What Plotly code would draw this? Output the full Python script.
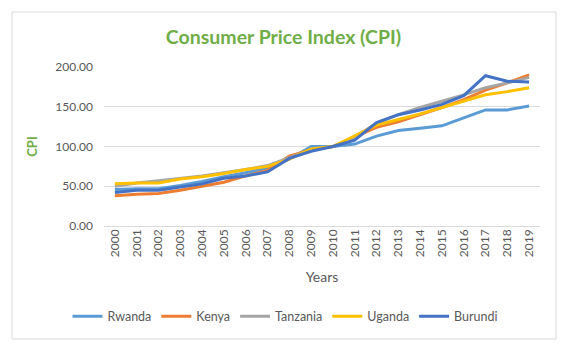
import plotly.graph_objects as go

# --- Data ---
years = [str(y) for y in range(2000, 2020)]

rwanda = [46, 47, 47, 51, 56, 62, 67, 73, 84, 100, 100, 103, 113, 120, 123, 126, 136, 146, 146, 151]
kenya = [38, 40, 41, 45, 50, 55, 63, 70, 88, 96, 100, 112, 124, 131, 140, 149, 159, 171, 180, 190]
tanzania = [50, 54, 57, 60, 63, 67, 71, 76, 86, 96, 100, 112, 129, 140, 149, 157, 165, 174, 180, 187]
uganda = [53, 54, 54, 59, 62, 66, 71, 75, 84, 97, 100, 114, 127, 134, 141, 149, 157, 165, 169, 174]
burundi = [42, 45, 45, 49, 53, 60, 63, 68, 85, 94, 100, 108, 130, 140, 146, 153, 164, 189, 182, 181]

series = [
    ("Rwanda", rwanda, "#5B9BD5"),
    ("Kenya", kenya, "#ED7D31"),
    ("Tanzania", tanzania, "#A5A5A5"),
    ("Uganda", uganda, "#FFC000"),
    ("Burundi", burundi, "#4472C4"),
]

# page body has an 8px margin, so the figure is 8px smaller and everything is laid out 8px up/left
W, H = 571, 346
L, R, T, B = 96, 39, 59, 128
GREEN = "#70AD47"
GREY = "#595959"

fig = go.Figure()
for name, vals, color in series:
    fig.add_trace(go.Scatter(
        x=years, y=vals, name=name, mode="lines",
        line=dict(color=color, width=3)
    ))

pw = W - L - R
ph = H - T - B

# chart border (Excel-style outer frame)
fig.add_shape(
    type="rect", xref="paper", yref="paper",
    x0=(4 - L) / pw, x1=(548 - L) / pw,
    y0=(H - B - 331) / ph, y1=(H - B - 4) / ph,
    line=dict(color="#D9D9D9", width=1), layer="below"
)

fig.update_layout(
    width=W, height=H,
    margin=dict(l=L, r=R, t=T, b=B),
    paper_bgcolor="white", plot_bgcolor="white",
    font=dict(family="Lato", color=GREY, size=12),
    title=dict(
        text="Consumer Price Index (CPI)",
        x=275.5 / W, xanchor="center", xref="container",
        y=1 - 29 / H, yanchor="middle", yref="container",
        font=dict(family="Lato", size=19.5, color=GREEN, weight="bold")
    ),
    legend=dict(
        orientation="h", x=(277.5 - L) / pw, xanchor="center",
        y=(H - B - 308.7) / ph, yanchor="middle",
        font=dict(size=12.5, color=GREY), itemwidth=30, tracegroupgap=0
    ),
    showlegend=True,
)

fig.update_xaxes(
    type="category", range=[-0.5, 19.5], tickangle=-90,
    showgrid=False, showline=False, ticks="",
    tickfont=dict(size=12, color=GREY),
    title=dict(text="Years", font=dict(size=14, color=GREY), standoff=15)
)
fig.update_yaxes(
    range=[0, 200], dtick=50, tickformat=".2f",
    showgrid=True, gridcolor="#D9D9D9", gridwidth=1,
    zeroline=True, zerolinecolor="#D9D9D9", zerolinewidth=1,
    showline=False, ticks="", ticklabelstandoff=10,
    tickfont=dict(size=12, color=GREY),
    title=dict(text="CPI", font=dict(size=13, color=GREEN, weight="bold"), standoff=14)
)

fig.write_html("out.html")
